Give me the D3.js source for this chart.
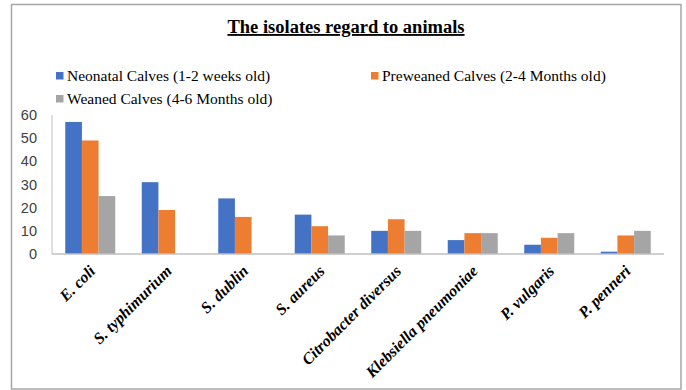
<!DOCTYPE html>
<html>
<head>
<meta charset="utf-8">
<script src="https://cdn.jsdelivr.net/npm/d3@7/dist/d3.min.js"></script>
<style>
  html, body { margin: 0; padding: 0; background: #fff; }
  svg { display: block; }
</style>
</head>
<body>
<svg id="chart" width="686" height="390"></svg>
<script>
const title = "The isolates regard to animals";
const categories = ["E. coli", "S. typhimurium", "S. dublin", "S. aureus", "Citrobacter diversus", "Klebsiella pneumoniae", "P. vulgaris", "P. penneri"];
const seriesNames = ["Neonatal Calves (1-2 weeks old)", "Preweaned Calves (2-4 Months old)", "Weaned Calves (4-6 Months old)"];
const neonatal = [57, 31, 24, 17, 10, 6, 4, 1];
const preweaned = [49, 19, 16, 12, 15, 9, 7, 8];
const weaned = [25, 0, 0, 8, 10, 9, 9, 10];
const yTicks = [0, 10, 20, 30, 40, 50, 60];
const colors = ["#4472C4", "#ED7D31", "#A5A5A5"];

const series = [neonatal, preweaned, weaned];
const svg = d3.select("#chart");

// outer border
svg.append("rect")
  .attr("x", 11.5).attr("y", 4.5)
  .attr("width", 669.5).attr("height", 384.5)
  .attr("fill", "none").attr("stroke", "#a6a6a6").attr("stroke-width", 1.5);

const plotLeft = 52, plotRight = 664, plotTop = 115, plotBottom = 254;

const x = d3.scaleBand().domain(categories).range([plotLeft, plotRight]).paddingInner(26.5 / 76.5).paddingOuter(13.25 / 76.5);
const xs = d3.scaleBand().domain(d3.range(series.length)).range([0, x.bandwidth()]);
const y = d3.scaleLinear().domain([0, 60]).range([plotBottom, plotTop]);

// title
svg.append("text")
  .attr("x", 346).attr("y", 33)
  .attr("text-anchor", "middle")
  .attr("font-family", "'Liberation Serif', 'Times New Roman', serif")
  .attr("font-weight", "bold")
  .attr("font-size", 18.5)
  .attr("fill", "#000")
  .attr("text-decoration", "underline")
  .text(title);

// legend
const legendPos = [[56, 81], [371, 81], [56, 104]];
seriesNames.forEach((name, i) => {
  const g = svg.append("g").attr("transform", `translate(${legendPos[i][0]},${legendPos[i][1]})`);
  g.append("rect").attr("x", 0).attr("y", -9).attr("width", 7.5).attr("height", 7.5).attr("fill", colors[i]);
  g.append("text").attr("x", 11).attr("y", 0)
    .attr("font-family", "'Liberation Serif', 'Times New Roman', serif")
    .attr("font-size", 15.5).attr("fill", "#000")
    .text(name);
});

// y axis line
svg.append("line").attr("x1", plotLeft).attr("x2", plotLeft).attr("y1", plotTop).attr("y2", plotBottom)
  .attr("stroke", "#bfbfbf").attr("stroke-width", 1);

// y tick labels
const yAxis = d3.axisLeft(y).tickValues(yTicks).tickSize(0).tickPadding(15);
const yg = svg.append("g").attr("transform", `translate(${plotLeft},0)`).call(yAxis);
yg.select(".domain").remove();
yg.selectAll("text")
  .attr("font-family", "'Liberation Sans', Arial, sans-serif")
  .attr("font-size", 14.5).attr("fill", "#404040");

// bars
series.forEach((vals, si) => {
  svg.append("g").selectAll("rect").data(vals).join("rect")
    .attr("x", (d, i) => x(categories[i]) + xs(si))
    .attr("y", d => y(d))
    .attr("width", xs.bandwidth())
    .attr("height", d => y(0) - y(d))
    .attr("fill", colors[si]);
});

// x axis baseline and labels
const xAxis = d3.axisBottom(x).tickSize(0).tickPadding(0);
const xg = svg.append("g").attr("transform", `translate(0,${plotBottom})`).call(xAxis);
xg.select(".domain").attr("stroke", "#bfbfbf").attr("stroke-width", 1.5).attr("d", `M${plotLeft},0H${plotRight}`);
xg.selectAll(".tick text")
  .attr("font-family", "'Liberation Serif', 'Times New Roman', serif")
  .attr("font-weight", "bold").attr("font-style", "italic")
  .attr("font-size", 16).attr("fill", "#000")
  .attr("text-anchor", "end")
  .attr("dy", 0)
  .attr("transform", "translate(6,18) rotate(-45)");
</script>
</body>
</html>
